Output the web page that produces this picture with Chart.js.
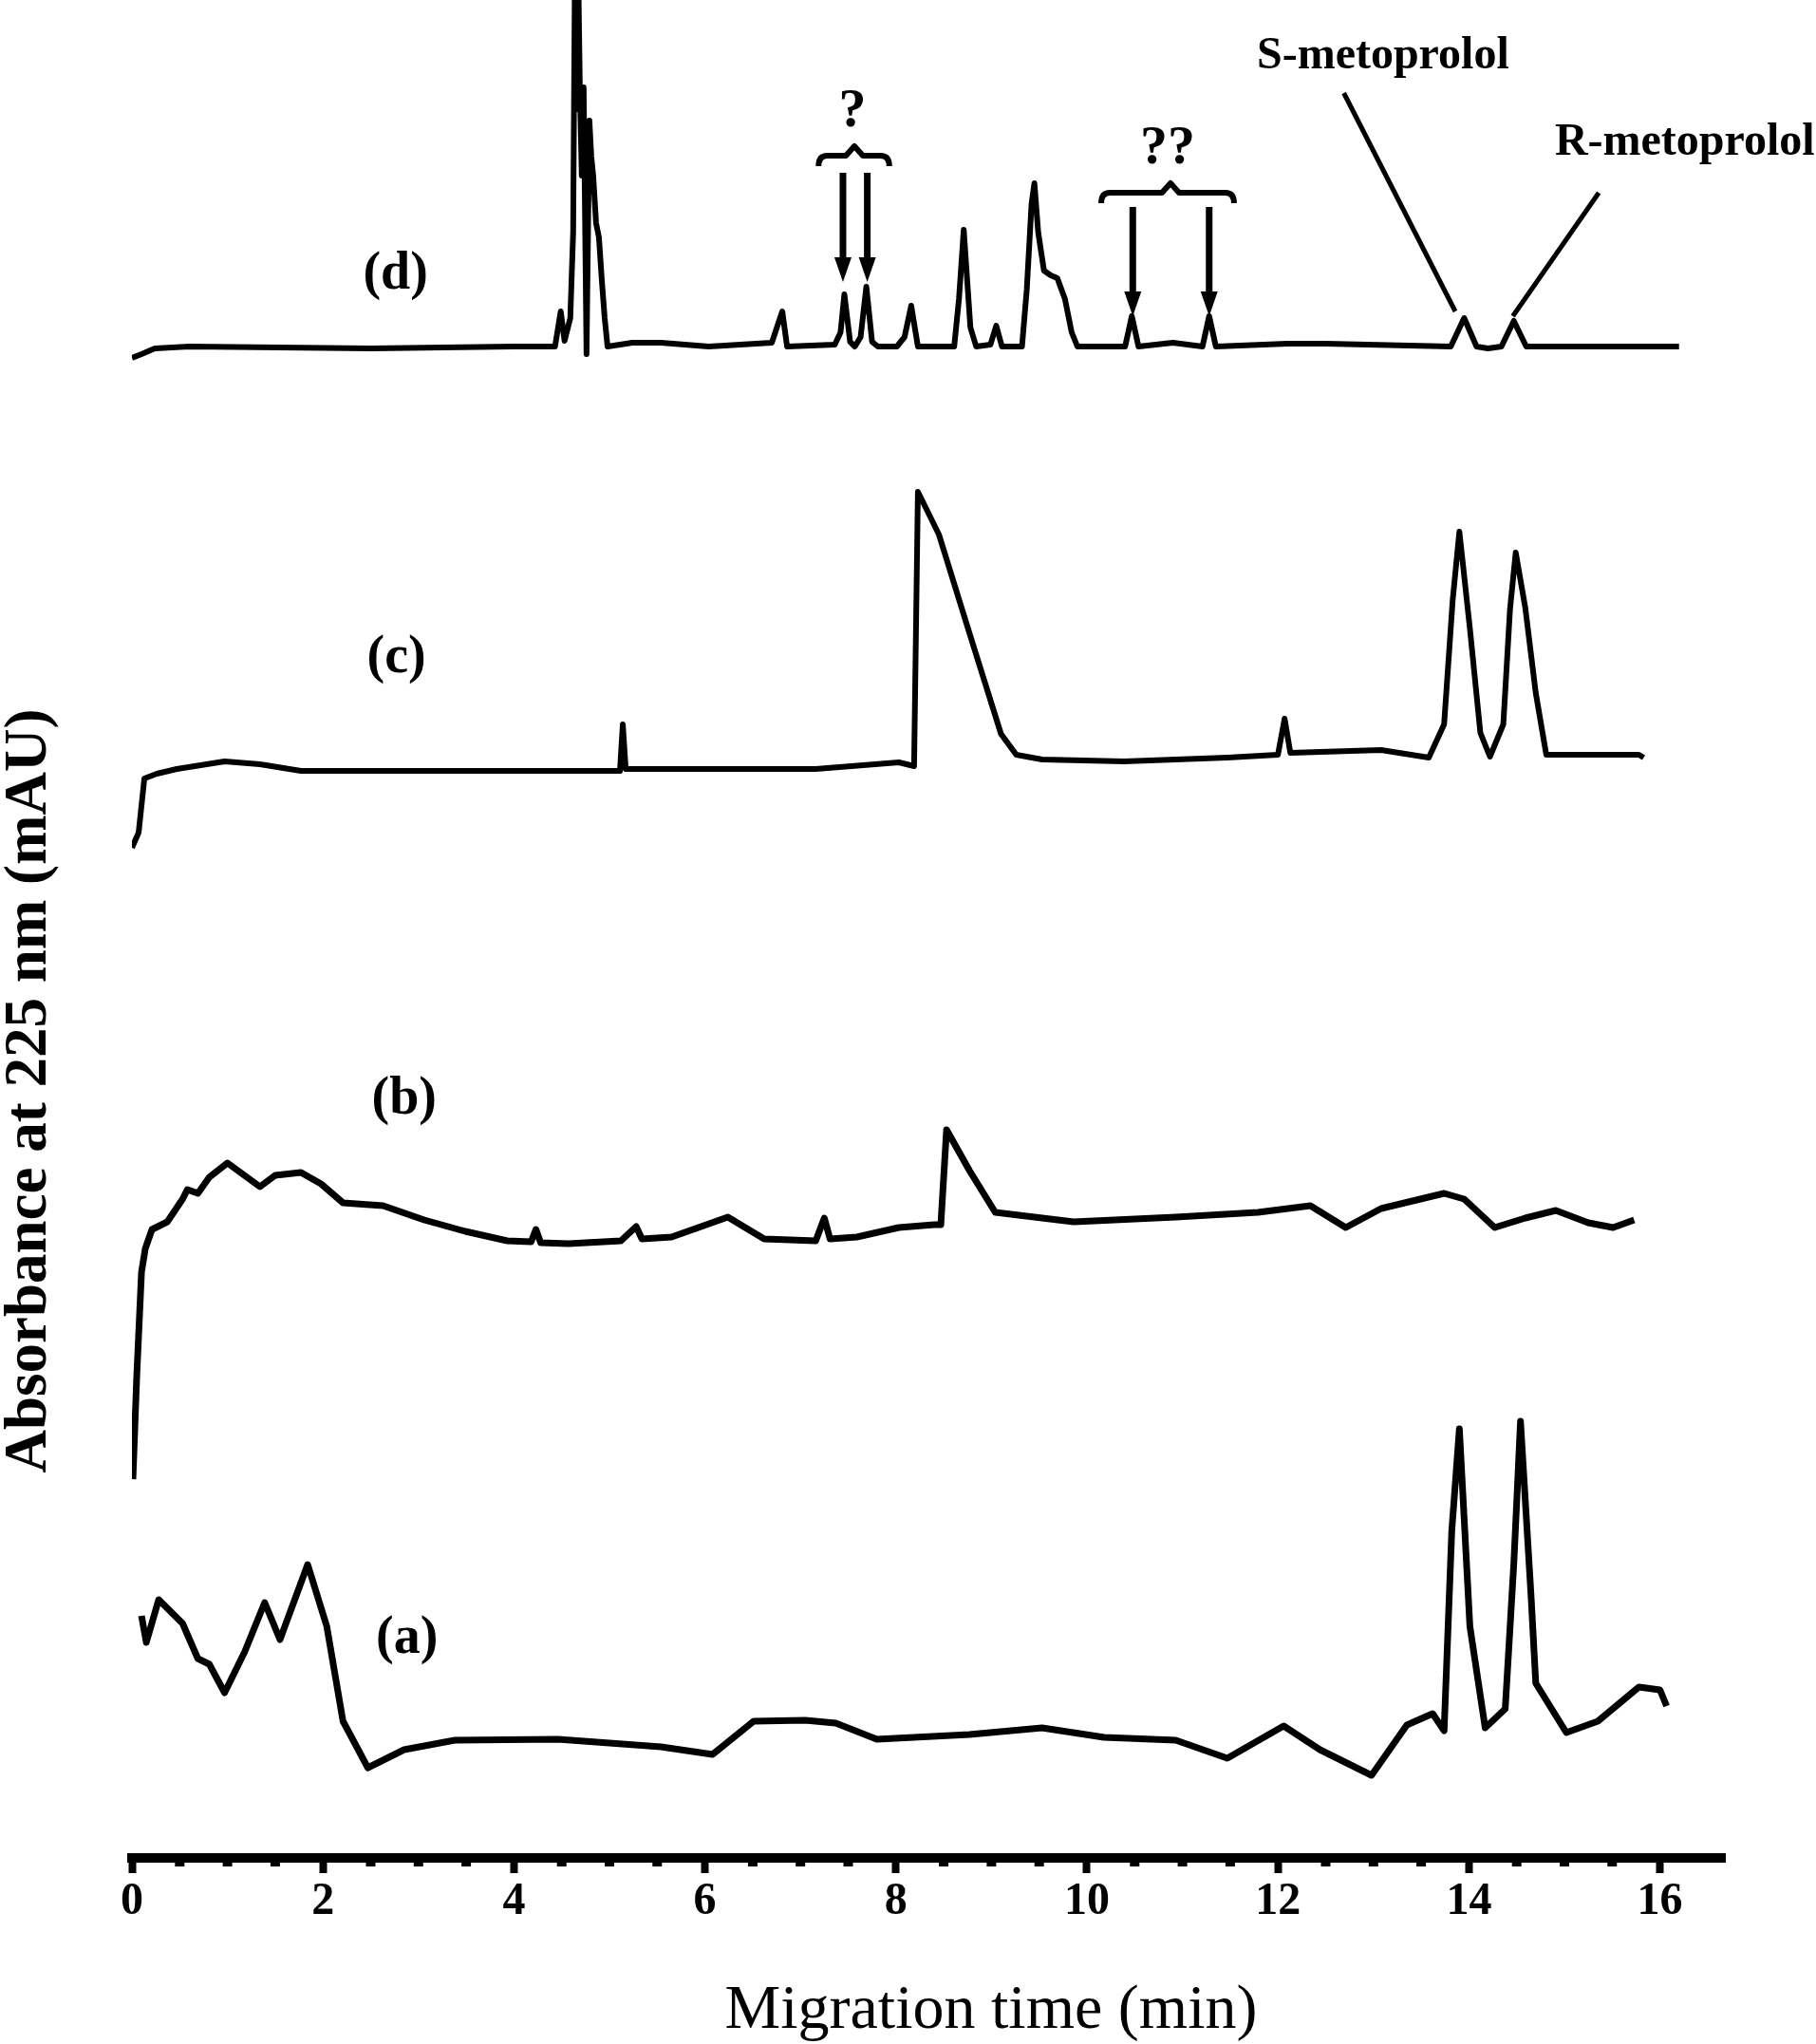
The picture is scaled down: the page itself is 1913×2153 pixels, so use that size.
<!DOCTYPE html>
<html>
<head>
<meta charset="utf-8">
<script src="https://cdn.jsdelivr.net/npm/chart.js@4.4.1/dist/chart.umd.min.js"></script>
<style>
  html, body { margin: 0; padding: 0; background: #fff; }
  #wrap { width: 1913px; height: 2153px; position: relative; }
</style>
</head>
<body>
<div id="wrap"><canvas id="chart"></canvas></div>
<script>
// Migration time (min) and absorbance above each trace's own baseline (arbitrary mAU)
const timeA = [0.10, 0.15, 0.28, 0.53, 0.69, 0.81, 0.97, 1.18, 1.39, 1.55, 1.84, 2.04, 2.21, 2.47, 2.85, 3.38, 4.46, 5.54, 6.08, 6.51, 7.05, 7.37, 7.80, 8.77, 9.53, 10.18, 10.93, 11.47, 12.06, 12.44, 12.98, 13.35, 13.62, 13.74, 13.82, 13.90, 14.01, 14.17, 14.38, 14.47, 14.54, 14.65, 14.70, 15.02, 15.35, 15.78, 16.00, 16.07];
const absA  = [128, 100, 145, 120, 83, 77, 47, 90, 142, 103, 182, 117, 17, -32, -13, -3, -2, -10, -18, 17, 18, 15, -2, 3, 10, 0, -3, -22, 12, -13, -40, 13, 25, 7, 217, 325, 117, 10, 30, 183, 333, 150, 57, 5, 17, 53, 50, 33];

const timeB = [0.01, 0.05, 0.10, 0.14, 0.21, 0.37, 0.53, 0.58, 0.69, 0.81, 1.00, 1.34, 1.50, 1.77, 1.98, 2.21, 2.63, 3.06, 3.49, 3.93, 4.18, 4.23, 4.28, 4.57, 5.12, 5.28, 5.34, 5.65, 6.24, 6.62, 7.16, 7.25, 7.31, 7.59, 8.03, 8.40, 8.47, 8.53, 8.77, 9.04, 9.86, 10.93, 11.79, 12.34, 12.71, 13.08, 13.74, 13.95, 14.27, 14.59, 14.91, 15.25, 15.51, 15.73];
const absB  = [-258, -150, -40, -15, 5, 13, 37, 47, 43, 60, 75, 50, 62, 65, 53, 33, 30, 15, 3, -7, -8, 5, -9, -10, -7, 8, -5, -3, 18, -5, -7, 17, -5, -3, 7, 10, 10, 110, 67, 23, 13, 18, 23, 30, 7, 27, 43, 37, 7, 17, 25, 12, 7, 15];

const timeC = [0.00, 0.07, 0.13, 0.26, 0.47, 0.97, 1.34, 1.77, 2.85, 5.00, 5.11, 5.14, 5.17, 7.16, 8.03, 8.19, 8.23, 8.45, 8.77, 9.10, 9.26, 9.53, 10.39, 11.47, 12.00, 12.07, 12.13, 13.08, 13.58, 13.74, 13.83, 13.90, 14.01, 14.12, 14.22, 14.36, 14.43, 14.49, 14.59, 14.70, 14.81, 15.78, 15.83];
const absC  = [-81, -65, -8, -3, 2, 10, 7, 0, 0, 0, 0, 49, 2, 2, 9, 5, 294, 249, 145, 39, 17, 12, 10, 14, 17, 55, 19, 22, 14, 49, 180, 252, 150, 40, 15, 49, 170, 230, 172, 82, 17, 17, 14];

const timeD = [0.00, 0.10, 0.24, 0.60, 2.50, 4.00, 4.43, 4.49, 4.53, 4.59, 4.62, 4.64, 4.655, 4.67, 4.69, 4.71, 4.73, 4.76, 4.79, 4.81, 4.83, 4.86, 4.89, 4.92, 4.95, 4.98, 5.24, 5.54, 6.04, 6.70, 6.81, 6.86, 7.36, 7.42, 7.46, 7.52, 7.57, 7.63, 7.69, 7.75, 7.81, 8.01, 8.09, 8.16, 8.23, 8.61, 8.66, 8.71, 8.78, 8.84, 8.99, 9.05, 9.11, 9.32, 9.37, 9.42, 9.45, 9.49, 9.55, 9.62, 9.69, 9.77, 9.84, 9.90, 10.40, 10.47, 10.54, 10.90, 11.21, 11.28, 11.35, 12.10, 12.50, 13.81, 13.95, 14.08, 14.20, 14.34, 14.47, 14.60, 15.20, 16.20];
const absD  = [-12, -8, -2, 0, -2, 0, 0, 37, 6, 30, 120, 420, 250, 420, 273, 180, 273, -8, 238, 200, 180, 130, 115, 70, 30, 0, 4, 4, 0, 4, 37, 0, 2, 15, 55, 5, 0, 10, 63, 5, 0, 0, 10, 43, 0, 0, 50, 123, 20, 0, 2, 22, 0, 0, 60, 150, 172, 120, 80, 75, 72, 50, 15, 0, 0, 32, 0, 4, 0, 32, 0, 3, 3, 0, 30, 0, -2, 0, 27, 0, 0, 0];

const traceLabels = ['(a)', '(b)', '(c)', '(d)'];
const xTickValues = [0, 2, 4, 6, 8, 10, 12, 14, 16];

// layout: where each trace's baseline sits in the stacked plot
const traceOffsets = [127, 657, 1145, 1592];
const traceWidths = [7, 7, 6, 6];
const labelAnchors = [[2.88, 230], [2.85, 798], [2.77, 1263], [2.76, 1667]];

function toPoints(ts, vs, off) {
  return ts.map((t, i) => ({ x: t, y: vs[i] + off }));
}

const series = [[timeA, absA], [timeB, absB], [timeC, absC], [timeD, absD]];
const datasets = series.map(([ts, vs], i) => ({
  label: traceLabels[i],
  data: toPoints(ts, vs, traceOffsets[i]),
  borderColor: '#000',
  borderWidth: traceWidths[i],
  borderJoinStyle: 'round',
  pointRadius: 0,
  tension: 0,
  fill: false,
}));

const SERIF = '"Liberation Serif", "Times New Roman", serif';

const decor = {
  id: 'decor',
  afterDraw(chart) {
    const { ctx, chartArea, scales: { x, y } } = chart;
    const px = (t) => x.getPixelForValue(t);
    const py = (v) => y.getPixelForValue(v);
    ctx.save();
    ctx.fillStyle = '#000';
    ctx.strokeStyle = '#000';

    // minor ticks every 0.5 min
    for (let k = 1; k < 32; k++) {
      if (k % 4 === 0) continue;
      ctx.fillRect(px(k * 0.5) - 5, chartArea.bottom, 10, 9);
    }

    // trace labels
    ctx.font = 'bold 56px ' + SERIF;
    ctx.textAlign = 'center';
    ctx.textBaseline = 'middle';
    traceLabels.forEach((lab, i) => {
      ctx.fillText(lab, px(labelAnchors[i][0]), py(labelAnchors[i][1]));
    });

    // braces and arrows marking unknown peaks
    function brace(t0, t1, tc, v) {
      const a = px(t0), b = px(t1), c = px(tc), Y = py(v);
      ctx.lineWidth = 6;
      ctx.lineJoin = 'round';
      ctx.beginPath();
      ctx.moveTo(a, Y + 11);
      ctx.quadraticCurveTo(a, Y, a + 9, Y);
      ctx.lineTo(c - 9, Y);
      ctx.lineTo(c, Y - 10);
      ctx.lineTo(c + 9, Y);
      ctx.lineTo(b - 9, Y);
      ctx.quadraticCurveTo(b, Y, b, Y + 11);
      ctx.stroke();
    }
    function arrow(t, vTop, vTip) {
      const X = px(t), y1 = py(vTop), y2 = py(vTip);
      ctx.lineWidth = 7;
      ctx.beginPath();
      ctx.moveTo(X, y1);
      ctx.lineTo(X, y2 - 20);
      ctx.stroke();
      ctx.beginPath();
      ctx.moveTo(X - 9, y2 - 26);
      ctx.lineTo(X + 9, y2 - 26);
      ctx.lineTo(X, y2);
      ctx.closePath();
      ctx.fill();
    }
    brace(7.19, 7.93, 7.565, 1793);
    arrow(7.445, 1775, 1660);
    arrow(7.70, 1775, 1660);
    brace(10.15, 11.54, 10.875, 1754);
    arrow(10.48, 1739, 1624);
    arrow(11.28, 1739, 1624);

    ctx.font = 'bold 58px ' + SERIF;
    ctx.textAlign = 'center';
    ctx.textBaseline = 'middle';
    ctx.fillText('?', px(7.545), py(1839));
    ctx.fillText('??', px(10.845), py(1800));

    // enantiomer labels with leader lines
    ctx.lineWidth = 5;
    ctx.beginPath();
    ctx.moveTo(px(12.69), py(1859));
    ctx.lineTo(px(13.857), py(1629));
    ctx.moveTo(px(15.36), py(1754));
    ctx.lineTo(px(14.46), py(1624));
    ctx.stroke();

    ctx.font = 'bold 48px ' + SERIF;
    ctx.textBaseline = 'alphabetic';
    ctx.textAlign = 'center';
    ctx.fillText('S-metoprolol', px(13.10), py(1885));
    ctx.textAlign = 'left';
    ctx.fillText('R-metoprolol', px(14.90), py(1794));

    // axis titles
    ctx.font = '66px ' + SERIF;
    ctx.textAlign = 'center';
    ctx.fillText('Migration time (min)', 1044, 2136);

    ctx.translate(48, 1149);
    ctx.rotate(-Math.PI / 2);
    ctx.font = 'bold 63px ' + SERIF;
    ctx.fillText('Absorbance at 225 nm (mAU)', 0, 0);
    ctx.restore();
  },
};

new Chart(document.getElementById('chart'), {
  type: 'line',
  data: { datasets },
  options: {
    responsive: true,
    maintainAspectRatio: false,
    animation: false,
    devicePixelRatio: 1,
    layout: { padding: { left: 139, right: 96, top: 0, bottom: 0 } },
    plugins: { legend: { display: false }, tooltip: { enabled: false } },
    scales: {
      x: {
        type: 'linear',
        min: 0,
        max: 16.68,
        afterFit: (scale) => { scale.height = 196; },
        afterBuildTicks: (scale) => { scale.ticks = xTickValues.map((v) => ({ value: v })); },
        border: { display: true, color: '#000', width: 10 },
        grid: { drawOnChartArea: false, drawTicks: true, tickLength: 16, tickWidth: 8, tickColor: '#000' },
        ticks: {
          includeBounds: false,
          color: '#000',
          padding: 2,
          maxRotation: 0,
          font: { family: SERIF, size: 48, weight: 'bold' },
        },
      },
      y: { display: false, min: 0, max: 1957 },
    },
  },
  plugins: [decor],
});
</script>
</body>
</html>
